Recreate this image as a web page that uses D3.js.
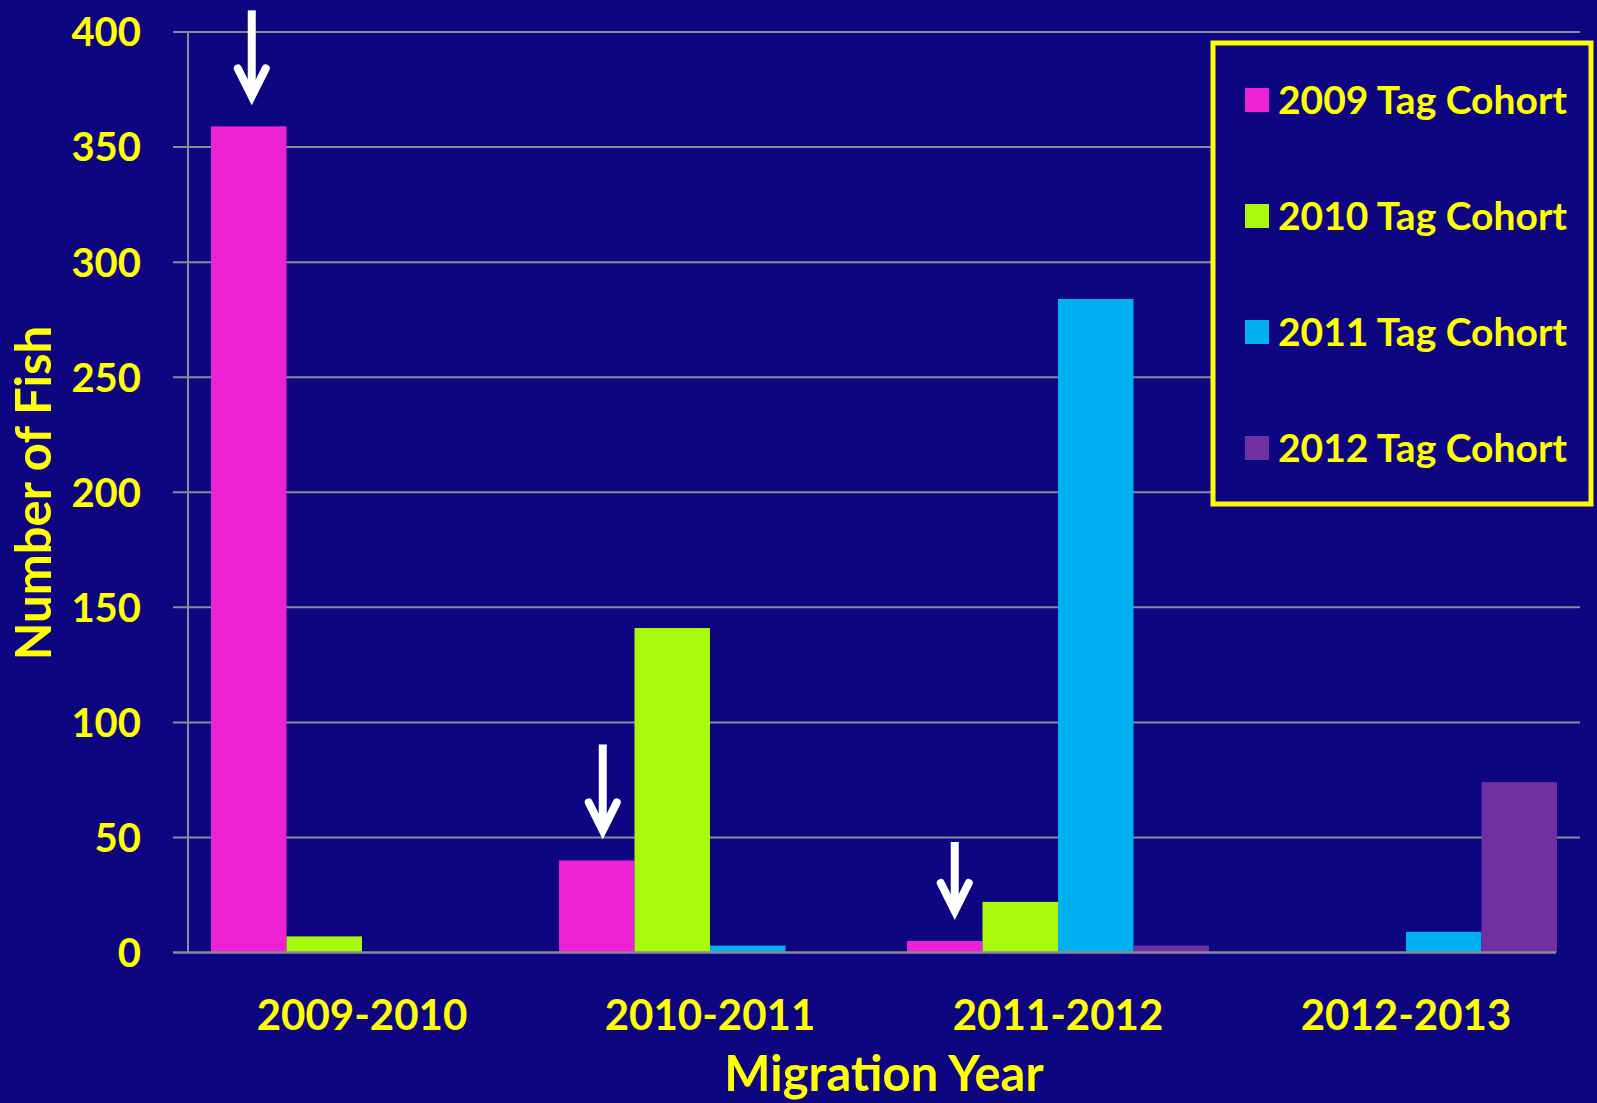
<!DOCTYPE html>
<html>
  <head>
    <title>Migration Year by Tag Cohort</title>
    <meta charset="utf-8">
    <script src='https://d3js.org/d3.v7.min.js'></script>
    <style>
      body { margin: 0; background: #0e0680; }
      text { font-family: Lato, "Open Sans", sans-serif; font-weight: bold; fill: #ffff00; }
    </style>
  </head>
  <body>
  <script>

    var years = ["2009-2010", "2010-2011", "2011-2012", "2012-2013"];
    var cohorts = ["2009 Tag Cohort", "2010 Tag Cohort", "2011 Tag Cohort", "2012 Tag Cohort"];
    var colors = ["#ec22d4", "#a8f90c", "#00b0f0", "#7030a0"];

    // one array per cohort, values per migration year (0 = no bar)
    var cohort2009 = [359, 40, 5, 0];
    var cohort2010 = [7, 141, 22, 0];
    var cohort2011 = [0, 3, 284, 9];
    var cohort2012 = [0, 0, 3, 74];
    var series = [cohort2009, cohort2010, cohort2011, cohort2012];

    var yTicks = [0, 50, 100, 150, 200, 250, 300, 350, 400];

    // arrows point at the 2009 cohort bar in the first three years
    var arrowYears = ["2009-2010", "2010-2011", "2011-2012"];
    var arrowLen = [95, 95, 78];
    var arrowShift = [3, 6, 10];

    var width = 1597, height = 1103;
    var mLeft = 188, mRight = 1580, mTop = 32, mBottom = 952.5;

    var svg = d3.select('body').append('svg')
      .attr('width', width)
      .attr('height', height);

    svg.append('rect').attr('width', width).attr('height', height).attr('fill', '#0e0680');

    var x0 = d3.scaleBand().domain(years).range([mLeft, mRight]).paddingInner(0.1322).paddingOuter(0.0661);
    var x1 = d3.scaleBand().domain(cohorts).range([0, x0.bandwidth()]);
    var y = d3.scaleLinear().domain([0, 400]).range([mBottom, mTop]);

    // gridlines + ticks
    svg.append('g').selectAll('line').data(yTicks.slice(1)).enter().append('line')
      .attr('x1', mLeft - 15).attr('x2', mRight)
      .attr('y1', function(d) { return y(d); })
      .attr('y2', function(d) { return y(d); })
      .attr('stroke', '#8a8a98').attr('stroke-width', 2);

    svg.append('line')
      .attr('x1', mLeft).attr('x2', mLeft).attr('y1', mTop).attr('y2', mBottom)
      .attr('stroke', '#8a8a98').attr('stroke-width', 2);

    svg.append('g').selectAll('text').data(yTicks).enter().append('text')
      .attr('x', 141).attr('y', function(d) { return y(d); })
      .attr('dy', '0.36em')
      .attr('text-anchor', 'end')
      .style('font-size', '40px')
      .text(function(d) { return d; });

    // bars
    var rows = [];
    years.forEach(function(yr, i) {
      series.forEach(function(s, j) {
        if (s[i] > 0) rows.push({year: yr, cohort: cohorts[j], value: s[i], color: colors[j]});
      });
    });

    svg.append('g').selectAll('rect').data(rows).enter().append('rect')
      .attr('x', function(d) { return x0(d.year) + x1(d.cohort); })
      .attr('y', function(d) { return y(d.value); })
      .attr('width', x1.bandwidth())
      .attr('height', function(d) { return y(0) - y(d.value); })
      .attr('fill', function(d) { return d.color; });

    // baseline
    svg.append('line')
      .attr('x1', mLeft - 15).attr('x2', mRight - 24).attr('y1', y(0)).attr('y2', y(0))
      .attr('stroke', '#8a8a98').attr('stroke-width', 2.5);

    // category labels
    svg.append('g').selectAll('text').data(years).enter().append('text')
      .attr('x', function(d) { return x0(d) + x0.bandwidth() / 2; })
      .attr('y', 1030)
      .attr('text-anchor', 'middle')
      .style('font-size', '42px')
      .text(function(d) { return d; });

    // axis titles
    svg.append('text')
      .attr('x', 884).attr('y', 1091)
      .attr('text-anchor', 'middle')
      .style('font-size', '49px')
      .text('Migration Year');

    svg.append('text')
      .attr('transform', 'translate(51,493) rotate(-90)')
      .attr('text-anchor', 'middle')
      .style('font-size', '49px')
      .text('Number of Fish');

    // arrows
    arrowYears.forEach(function(yr, i) {
      var v = cohort2009[years.indexOf(yr)];
      var cx = x0(yr) + x1(cohorts[0]) + x1.bandwidth() / 2 + arrowShift[i];
      var tip = y(v) - 21;        // visible tip
      var pt = tip - 9;           // path point (miter pokes out below)
      var g = svg.append('g');
      g.append('line')
        .attr('x1', cx).attr('x2', cx)
        .attr('y1', tip - arrowLen[i]).attr('y2', pt - 4)
        .attr('stroke', 'white').attr('stroke-width', 8);
      g.append('path')
        .attr('d', 'M' + (cx - 14) + ',' + (pt - 28) + ' L' + cx + ',' + pt + ' L' + (cx + 14) + ',' + (pt - 28))
        .attr('fill', 'none').attr('stroke', 'white').attr('stroke-width', 8)
        .attr('stroke-linecap', 'round').attr('stroke-linejoin', 'miter');
    });

    // legend
    var legend = svg.append('g');
    legend.append('rect')
      .attr('x', 1213).attr('y', 43).attr('width', 378).attr('height', 461)
      .attr('fill', '#0e0680').attr('stroke', '#ffff00').attr('stroke-width', 5);

    var item = legend.selectAll('.item').data(cohorts).enter().append('g')
      .attr('class', 'item')
      .attr('transform', function(d, i) { return 'translate(1245,' + (100 + i * 116) + ')'; });
    item.append('rect')
      .attr('x', 0).attr('y', -12).attr('width', 24).attr('height', 24)
      .attr('fill', function(d, i) { return colors[i]; });
    item.append('text')
      .attr('x', 33).attr('dy', '0.36em')
      .style('font-size', '39px')
      .text(function(d) { return d; });

  </script>
  </body>
</html>
